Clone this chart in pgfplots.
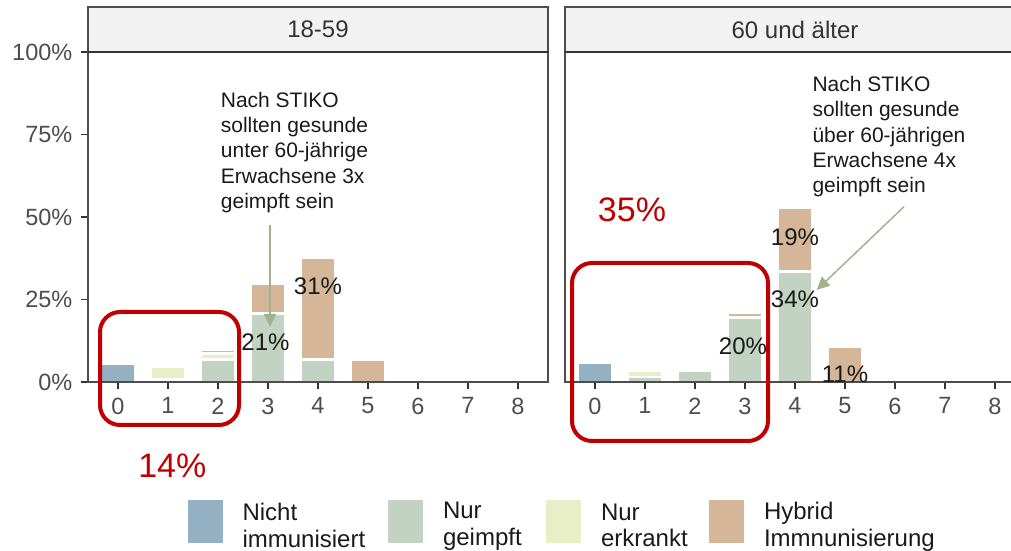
\documentclass[border=0pt]{standalone}
\usepackage{pgfplots}
\pgfplotsset{compat=1.18}
\usepackage{fontspec}
\setmainfont{Liberation Sans}
\usetikzlibrary{arrows.meta}
\definecolor{cNicht}{HTML}{94B1C4}
\definecolor{cGeimpft}{HTML}{C2D2C3}
\definecolor{cErkrankt}{HTML}{E8EEC6}
\definecolor{cHybrid}{HTML}{D5B699}
\definecolor{boxc}{HTML}{4D4D4D}
\definecolor{axc}{HTML}{333333}
\definecolor{tickc}{HTML}{4D4D4D}
\definecolor{stripc}{HTML}{F2F2F2}
\definecolor{txtc}{HTML}{1A1A1A}
\definecolor{arrc}{HTML}{A2B18E}
\definecolor{redc}{HTML}{C00000}
\newcommand\fs[2]{\fontsize{#1bp}{#2bp}\selectfont}
\newcommand\lent[2]{\raisebox{7bp}{\parbox[c]{#1bp}{#2}}}
\pgfplotsset{
  keyimg/.style={legend image code/.code={\fill[fill=#1] (0bp,-22.5bp) rectangle (37.5bp,22.5bp);}},
  barst/.style={fill=#1, draw=white, line width=2.5bp, keyimg=#1},
  panel/.style={
    at={(#1bp,169bp)}, anchor=south west, width=460bp, height=330bp, scale only axis,
    xmin=-0.6, xmax=8.6, ymin=0, ymax=100,
    ybar stacked, bar width=0.7,
    axis on top, clip=false,
    xtick={0,1,2,3,4,5,6,7,8}, xticklabels={0,1,2,3,4,5,6,7,8},
    xtick pos=bottom, ytick pos=left,
    tick align=outside, major tick length=7bp,
    tick style={line width=1.8bp, color=axc},
    axis line style={line width=1.3bp, color=boxc},
    ticklabel style={font=\fs{23.5}{28}, text=tickc},
    xticklabel style={inner sep=0pt, yshift=-8.5bp},
    yticklabel style={inner sep=0pt, xshift=-8.5bp},
  }
}
\begin{document}
\begin{tikzpicture}[x=1bp,y=1bp]
\useasboundingbox (0,0) rectangle (1011,551);
% ---------------- left panel: 18-59
\begin{axis}[panel=88, name=L,
  ytick={0,25,50,75,100}, yticklabels={0\%,25\%,50\%,75\%,100\%},
  legend columns=4, legend cell align=left,
  legend style={at={(0.2109,-0.3515)}, anchor=north west, draw=none, fill=none,
    inner sep=0pt, outer sep=0pt, font=\fs{24}{26.5}, text=txtc,
    nodes={inner sep=0pt, outer sep=0pt},
    /tikz/every odd column/.style={column sep=17.5bp},
    /tikz/every even column/.style={column sep=0pt}},
]
\addplot[barst=cNicht] coordinates {(0,5.5) (1,0) (2,0) (3,0) (4,0) (5,0) (6,0) (7,0) (8,0)};
\addlegendentry{\lent{143}{Nicht\\immunisiert}}
\addplot[barst=cGeimpft] coordinates {(0,0) (1,0.7) (2,6.8) (3,20.7) (4,6.8) (5,0) (6,0) (7,0) (8,0)};
\addlegendentry{\lent{100.5}{Nur\\geimpft}}
\addplot[barst=cErkrankt] coordinates {(0,0) (1,4.0) (2,1.8) (3,0) (4,0) (5,0) (6,0) (7,0) (8,0)};
\addlegendentry{\lent{105.5}{Nur\\erkrankt}}
\addplot[barst=cHybrid] coordinates {(0,0) (1,0) (2,1.3) (3,9.1) (4,30.9) (5,6.8) (6,0) (7,0) (8,0)};
\addlegendentry{\lent{190}{Hybrid\\Immnunisierung}}
\coordinate (a21) at (axis cs:2.95,12.1);
\coordinate (a31) at (axis cs:4.0,29.1);
\end{axis}
\draw[fill=stripc, draw=boxc, line width=1.3bp] (L.north west) rectangle ([yshift=45bp]L.north east);
\draw[line width=2.4bp, color=axc] (L.north west) -- (L.north east);
\node[font=\fs{24}{28}, text=axc] at ([yshift=22.5bp]L.north) {18-59};
% ---------------- right panel: 60 und aelter
\begin{axis}[panel=565, name=R, ytick=\empty]
\addplot[barst=cNicht] coordinates {(0,5.7) (1,0) (2,0) (3,0) (4,0) (5,0) (6,0) (7,0) (8,0)};
\addplot[barst=cGeimpft] coordinates {(0,0) (1,1.5) (2,3.5) (3,19.5) (4,33.5) (5,0) (6,0) (7,0) (8,0)};
\addplot[barst=cErkrankt] coordinates {(0,0) (1,2.0) (2,0) (3,0) (4,0) (5,0) (6,0) (7,0) (8,0)};
\addplot[barst=cHybrid] coordinates {(0,0) (1,0) (2,0) (3,1.4) (4,19.2) (5,10.6) (6,0) (7,0) (8,0)};
\coordinate (b20) at (axis cs:2.96,10.9);
\coordinate (b34) at (axis cs:4.0,25.1);
\coordinate (b19) at (axis cs:4.0,44.0);
\coordinate (b11) at (axis cs:5.0,2.4);
\end{axis}
\draw[fill=stripc, draw=boxc, line width=1.3bp] (R.north west) rectangle ([yshift=45bp]R.north east);
\draw[line width=2.4bp, color=axc] (R.north west) -- (R.north east);
\node[font=\fs{24}{28}, text=axc] at ([yshift=22.5bp]R.north) {60 und älter};
% ---------------- bar labels
\begin{scope}[every node/.style={font=\fs{24}{28}, text=txtc}]
\node at (a21) {21\%};
\node at (a31) {31\%};
\node at (b20) {20\%};
\node at (b34) {34\%};
\node at (b19) {19\%};
\node at (b11) {11\%};
\end{scope}
% ---------------- annotations
\node[anchor=north west, align=left, inner sep=0pt, font=\fs{21}{25.3}, text=txtc] at (220.7,459.3)
  {Nach STIKO\\sollten gesunde\\unter 60-jährige\\Erwachsene 3x\\geimpft sein};
\node[anchor=north west, align=left, inner sep=0pt, font=\fs{21}{25.3}, text=txtc] at (812.3,475)
  {Nach STIKO\\sollten gesunde\\über 60-jährigen\\Erwachsene 4x\\geimpft sein};
\draw[arrc, line width=1.5bp, -{Triangle[width=12bp,length=13bp]}] (270,326) -- (270,224);
\draw[arrc, line width=1.5bp, -{Triangle[width=12bp,length=13bp]}] (904,344.3) -- (816.7,261);
\draw[redc, line width=4bp, rounded corners=20bp] (100,126) rectangle (239,239);
\draw[redc, line width=4bp, rounded corners=20bp] (572,110) rectangle (768,288);
\node[text=redc, font=\fs{34}{40}] at (172.3,85) {14\%};
\node[text=redc, font=\fs{34}{40}] at (632,341) {35\%};
\end{tikzpicture}
\end{document}
